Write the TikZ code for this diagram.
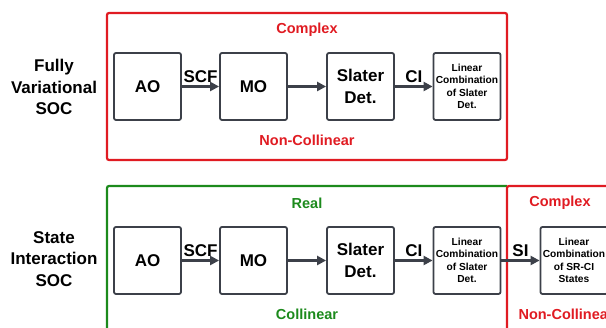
\documentclass[tikz,border=0pt]{standalone}
\usepackage{fontspec}
\setmainfont{Liberation Sans}
\usetikzlibrary{arrows.meta}
\definecolor{boxgray}{HTML}{3C4049}
\definecolor{myred}{HTML}{E01B22}
\definecolor{mygreen}{HTML}{1C8A1C}
\tikzset{
  stepbox/.style={draw=boxgray, line width=1.8pt, rounded corners=2pt, minimum width=67pt, minimum height=67pt, inner sep=0pt, font=\bfseries\fontsize{17}{21.5}\selectfont, align=center},
  smallbox/.style={stepbox, font=\bfseries\fontsize{10.2}{12.5}\selectfont},
  arr/.style={draw=boxgray, line width=3pt, -{Triangle[length=9pt,width=9pt]}},
  arrlabel/.style={midway, above, inner sep=2pt, font=\bfseries\fontsize{17}{20}\selectfont, text=black},
  sidetext/.style={font=\bfseries\fontsize{17}{21.5}\selectfont, align=center},
  regionlabel/.style={font=\bfseries\fontsize{14.5}{17}\selectfont},
  frame/.style={line width=2.2pt, rounded corners=2pt}
}
\begin{document}
\begin{tikzpicture}[x=1pt,y=-1pt]
\useasboundingbox (0,0) rectangle (606,328);
\clip (0,0) rectangle (606,328);
% top row
\draw[frame, myred] (107,13) rectangle (507,160);
\node[regionlabel, text=myred] (cplx1) at (307,30) {Complex};
\node[regionlabel, text=myred] (ncol1) at (307,140) {Non-Collinear};
\node[sidetext] (fv) at (54,87) {Fully\\Variational\\SOC};
\node[stepbox] (ao1) at (147.5,86.5) {AO};
\node[stepbox] (mo1) at (253.5,86.5) {MO};
\node[stepbox] (sd1) at (360.5,86.5) {Slater\\Det.};
\node[smallbox] (lc1) at (467,86.5) {Linear\\Combination\\of Slater\\Det.};
\draw[arr] (ao1.east) -- (mo1.west) node[arrlabel] (scf1) {SCF};
\draw[arr] (mo1.east) -- (sd1.west);
\draw[arr] (sd1.east) -- (lc1.west) node[arrlabel] (ci1) {CI};
% bottom row
\draw[frame, mygreen] (107,340) -- (107,186) -- (507,186);
\draw[frame, myred] (507,340) -- (507,186) -- (620,186);
\node[regionlabel, text=mygreen] (real2) at (307,203) {Real};
\node[regionlabel, text=mygreen] (col2) at (307,314) {Collinear};
\node[regionlabel, text=myred] (cplx2) at (560,203) {Complex};
\node[regionlabel, text=myred, anchor=west] (ncol2) at (515,314) {Non-Collinear};
\node[sidetext] (si) at (54,259) {State\\Interaction\\SOC};
\node[stepbox] (ao2) at (147.5,260.5) {AO};
\node[stepbox] (mo2) at (253.5,260.5) {MO};
\node[stepbox] (sd2) at (360.5,260.5) {Slater\\Det.};
\node[smallbox] (lc2) at (467,260.5) {Linear\\Combination\\of Slater\\Det.};
\node[smallbox] (sr2) at (574,260.5) {Linear\\Combination\\of SR-CI\\States};
\draw[arr] (ao2.east) -- (mo2.west) node[arrlabel] (scf2) {SCF};
\draw[arr] (mo2.east) -- (sd2.west);
\draw[arr] (sd2.east) -- (lc2.west) node[arrlabel] (ci2) {CI};
\draw[arr] (lc2.east) -- (sr2.west) node[arrlabel] (si2) {SI};
\end{tikzpicture}
\end{document}
